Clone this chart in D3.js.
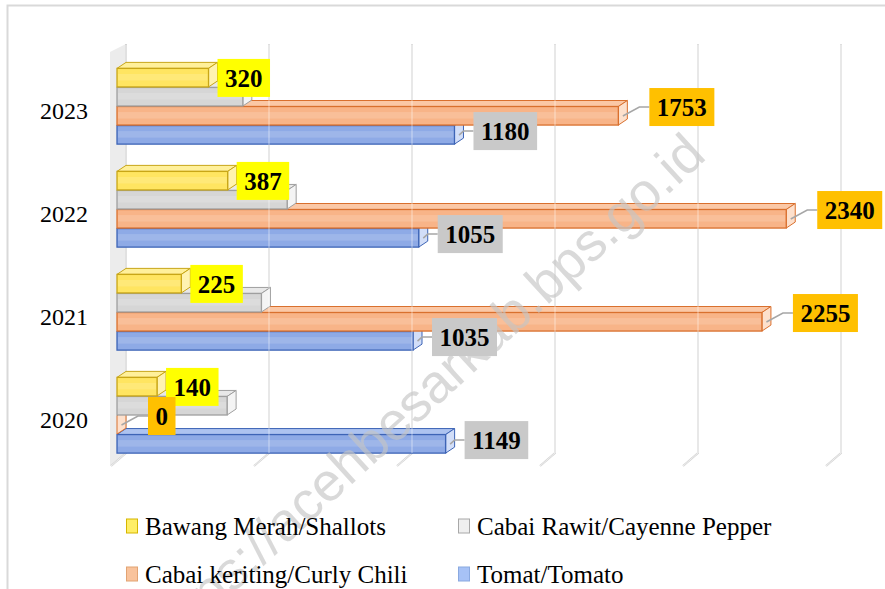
<!DOCTYPE html>
<html>
<head>
<meta charset="utf-8">
<script src="https://cdn.jsdelivr.net/npm/d3@7"></script>
<style>
  body { margin: 0; background: #ffffff; }
  svg { display: block; }
</style>
</head>
<body>
<div id="chart"></div>
<script>
  // data

  const years = ["2023", "2022", "2021", "2020"];
  const series = ["Bawang Merah/Shallots", "Cabai Rawit/Cayenne Pepper", "Cabai keriting/Curly Chili", "Tomat/Tomato"];
  const bawangMerah = [320, 387, 225, 140];
  const cabaiRawit = [440, 595, 505, 385];
  const cabaiKeriting = [1753, 2340, 2255, 0];
  const tomat = [1180, 1055, 1035, 1149];
  const xTicks = [0, 500, 1000, 1500, 2000, 2500];

  const values = [bawangMerah, cabaiRawit, cabaiKeriting, tomat];

  // config

  const width = 885;
  const height = 589;
  const depth = { dx: 9, dy: 6 };

  const styles = [
    { front: "#ffe561", top: "#fff09a", side: "#fff3b0", stroke: "#c8a617", label: "#ffff00", legend: "#ffee66", legendStroke: "#d6b600" },
    { front: "#d6d6d6", top: "#e8e8e8", side: "#f4f4f4", stroke: "#9f9f9f", label: null, legend: "#efefef", legendStroke: "#a8a8a8" },
    { front: "#f8b488", top: "#fbc8a6", side: "#fde0cc", stroke: "#d9702e", label: "#ffc000", legend: "#f9c39c", legendStroke: "#e2a373" },
    { front: "#8eaae6", top: "#adc3f0", side: "#d2def8", stroke: "#3d64b6", label: "#c9c9c9", legend: "#a7c2f6", legendStroke: "#8aa9e0" }
  ];

  // label placement per series: dx from bar end, dy from bar centre
  const labelPos = [
    { dx: 0, dy: 0, lead: false },
    null,
    { dx: 22, dy: -9, lead: true },
    { dx: 10, dy: -4, lead: true }
  ];

  const svg = d3.select("#chart")
    .append("svg")
    .attr("width", width)
    .attr("height", height);

  // outer frame

  svg.append("path")
    .attr("d", "M7.5,589 L7.5,5.5 L885,5.5")
    .attr("fill", "none")
    .attr("stroke", "#d9d9d9")
    .attr("stroke-width", 2);

  // scales

  const x = d3.scaleLinear()
    .domain([0, 2500])
    .range([117, 117 + 2500 * 0.286]);

  const y0 = d3.scaleBand()
    .domain(years)
    .range([55, 467])
    .paddingInner(0.26)
    .paddingOuter(0.13);

  const y1 = d3.scaleBand()
    .domain(series)
    .range([0, y0.bandwidth()]);

  // back wall (left) and gridlines

  const wallTop = 44;
  const wallBottom = 453;

  svg.append("path")
    .attr("d", `M${x(0) + depth.dx},${wallTop} L${x(0) + depth.dx},${wallBottom} L${x(0) - 7},${wallBottom + 13} L${x(0) - 7},${wallTop + 8} Z`)
    .attr("fill", "#ececec")
    .attr("stroke", "none");

  svg.selectAll("path.grid")
    .data(xTicks)
    .enter()
    .append("path")
    .attr("class", "grid")
    .attr("d", (d) => {
      const gx = x(d) + depth.dx;
      return `M${gx},${wallTop} L${gx},${wallBottom} L${gx - 15},${wallBottom + 13}`;
    })
    .attr("fill", "none")
    .attr("stroke", "#d4d4d4")
    .attr("stroke-width", 2);

  svg.selectAll("path.gridInner")
    .data(xTicks)
    .enter()
    .append("path")
    .attr("class", "gridInner")
    .attr("d", (d) => {
      const gx = x(d) + depth.dx;
      return `M${gx},${wallTop + 1} L${gx},${wallBottom} L${gx - 15},${wallBottom + 13}`;
    })
    .attr("fill", "none")
    .attr("stroke", "#ffffff")
    .attr("stroke-width", 0.6);

  // year labels

  svg.selectAll("text.year")
    .data(years)
    .enter()
    .append("text")
    .attr("class", "year")
    .attr("x", 88)
    .attr("y", (d) => y0(d) + y0.bandwidth() / 2 + 4)
    .attr("dy", "0.35em")
    .attr("text-anchor", "end")
    .attr("font-family", "'Liberation Serif', 'Times New Roman', serif")
    .attr("font-size", 24)
    .attr("fill", "#000")
    .text((d) => d);

  // 3d bars, drawn bottom series first so upper bars cover lower top faces

  const bars = [];
  years.forEach((yr, i) => {
    series.forEach((s, j) => {
      bars.push({ year: yr, series: s, si: j, value: values[j][i] });
    });
  });

  const drawOrder = bars.slice().sort((a, b) => (b.si - a.si));

  const barG = svg.append("g");

  drawOrder.forEach((b) => {
    const st = styles[b.si];
    const x0 = x(0);
    const x1 = x(b.value);
    const top = y0(b.year) + y1(b.series);
    const h = y1.bandwidth() - 0.5;
    const g = barG.append("g");

    // top face
    g.append("path")
      .attr("d", `M${x0},${top} L${x0 + depth.dx},${top - depth.dy} L${x1 + depth.dx},${top - depth.dy} L${x1},${top} Z`)
      .attr("fill", st.top)
      .attr("stroke", st.stroke)
      .attr("stroke-width", 1)
      .attr("stroke-linejoin", "round");

    // right end face
    g.append("path")
      .attr("d", `M${x1},${top} L${x1 + depth.dx},${top - depth.dy} L${x1 + depth.dx},${top - depth.dy + h} L${x1},${top + h} Z`)
      .attr("fill", st.side)
      .attr("stroke", st.stroke)
      .attr("stroke-width", 1)
      .attr("stroke-linejoin", "round");

    // front face
    g.append("rect")
      .attr("x", x0)
      .attr("y", top)
      .attr("width", Math.max(0, x1 - x0))
      .attr("height", h)
      .attr("fill", st.front)
      .attr("stroke", st.stroke)
      .attr("stroke-width", 1.3);

    // soft highlight stripe
    if (x1 - x0 > 4) {
      g.append("rect")
        .attr("x", x0 + 1)
        .attr("y", top + h * 0.3)
        .attr("width", x1 - x0 - 2)
        .attr("height", h * 0.35)
        .attr("fill", "#ffffff")
        .attr("fill-opacity", 0.15);
    }
  });

  // faint gridlines showing through the bars
  svg.selectAll("line.gridOver")
    .data(xTicks.slice(1))
    .enter()
    .append("line")
    .attr("class", "gridOver")
    .attr("x1", (d) => x(d) + depth.dx)
    .attr("x2", (d) => x(d) + depth.dx)
    .attr("y1", wallTop)
    .attr("y2", wallBottom)
    .attr("stroke", "#ffffff")
    .attr("stroke-opacity", 0.25)
    .attr("stroke-width", 2);

  // watermark

  svg.append("text")
    .attr("transform", "translate(708,158) rotate(-42.5)")
    .attr("text-anchor", "end")
    .attr("font-family", "'Liberation Sans', Arial, sans-serif")
    .attr("font-size", 54)
    .attr("fill", "#c4c4c4")
    .attr("fill-opacity", 0.65)
    .text("https://acehbesarkab.bps.go.id");

  // data labels

  const labelG = svg.append("g");

  bars.forEach((b) => {
    const pos = labelPos[b.si];
    if (!pos) return;
    const st = styles[b.si];
    const top = y0(b.year) + y1(b.series);
    const h = y1.bandwidth();
    const cy = top + h / 2;
    const xe = x(b.value) + depth.dx / 2;
    const boxX = x(b.value) + depth.dx + pos.dx;
    const boxCy = cy + pos.dy;

    const txt = labelG.append("text")
      .attr("font-family", "'Liberation Serif', 'Times New Roman', serif")
      .attr("font-weight", "bold")
      .attr("font-size", 25)
      .attr("fill", "#000")
      .text(b.value);
    const tw = txt.node().getComputedTextLength();
    const bw = tw + 15;
    const bh = 38;

    if (pos.lead) {
      labelG.insert("path", "text")
        .attr("d", `M${xe},${cy} L${boxX - 10},${boxCy} L${boxX},${boxCy}`)
        .attr("fill", "none")
        .attr("stroke", "#a6a6a6")
        .attr("stroke-width", 1.5);
    }

    labelG.insert("rect", "text")
      .attr("x", boxX)
      .attr("y", boxCy - bh / 2)
      .attr("width", bw)
      .attr("height", bh)
      .attr("fill", st.label);

    txt.attr("x", boxX + bw / 2)
      .attr("y", boxCy)
      .attr("dy", "0.35em")
      .attr("text-anchor", "middle");
    txt.raise();
  });

  // legend

  const legendPos = [
    { x: 126, y: 526 },
    { x: 458, y: 526 },
    { x: 126, y: 574 },
    { x: 458, y: 574 }
  ];

  const legend = svg.selectAll("g.legend")
    .data(series)
    .enter()
    .append("g")
    .attr("class", "legend")
    .attr("transform", (d, i) => `translate(${legendPos[i].x},${legendPos[i].y})`);

  legend.append("rect")
    .attr("x", 0.5)
    .attr("y", -7)
    .attr("width", 11)
    .attr("height", 14)
    .attr("fill", (d, i) => styles[i].legend)
    .attr("stroke", (d, i) => styles[i].legendStroke)
    .attr("stroke-width", 1);

  legend.append("text")
    .attr("x", 19)
    .attr("y", 0)
    .attr("dy", "0.35em")
    .attr("font-family", "'Liberation Serif', 'Times New Roman', serif")
    .attr("font-size", 25)
    .attr("fill", "#000")
    .text((d) => d);
</script>
</body>
</html>
